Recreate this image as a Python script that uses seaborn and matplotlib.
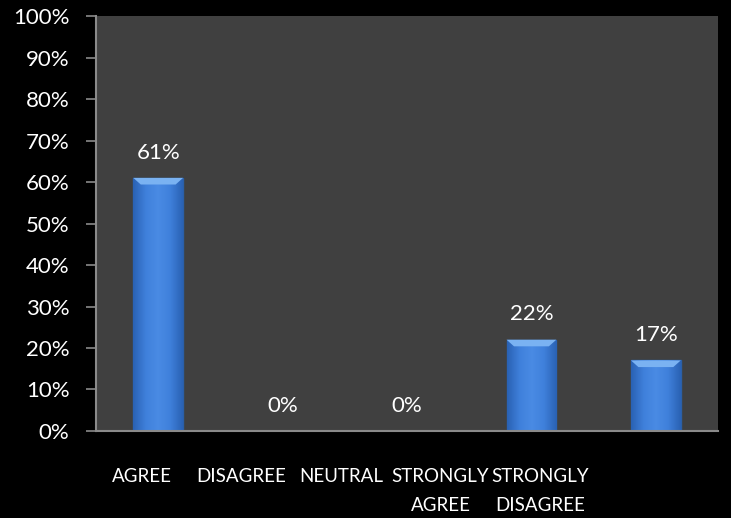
import numpy as np
import pandas as pd
import matplotlib
matplotlib.use('Agg')
import matplotlib.pyplot as plt
from matplotlib.colors import LinearSegmentedColormap
import seaborn as sns

# survey responses (percent)
categories = ['AGREE', 'DISAGREE', 'NEUTRAL', 'STRONGLY AGREE', 'STRONGLY DISAGREE']
tick_labels = ['AGREE', 'DISAGREE', 'NEUTRAL', 'STRONGLY\nAGREE', 'STRONGLY\nDISAGREE']
percents = [61, 0, 0, 22, 17]

df = pd.DataFrame({'response': categories, 'pct': percents})

sns.set_style('dark')
plt.rcParams['font.family'] = ['Lato', 'DejaVu Sans']

fig = plt.figure(figsize=(7.31, 5.18), dpi=100, facecolor='black')
ax = fig.add_axes([0.1313, 0.168, 0.851, 0.801])
ax.set_facecolor('#404040')

sns.barplot(data=df, x='response', y='pct', color='#3C7DD9', width=0.4,
            edgecolor='#2B5FA6', linewidth=1.0, saturation=1, ax=ax)

# shiny look: darker sides, brighter middle, light bevel on top
shade = LinearSegmentedColormap.from_list('shade', ['#2a62b4', '#3f80db', '#4a8be4', '#3f80db', '#2a62b4'])
grad = np.linspace(0, 1, 64).reshape(1, -1)
for p in list(ax.patches):
    h = p.get_height()
    if h <= 0:
        continue
    x0, w = p.get_x(), p.get_width()
    im = ax.imshow(grad, cmap=shade, aspect='auto', extent=(x0, x0 + w, 0, h), zorder=2.5)
    im.set_clip_path(p)
    ax.add_patch(plt.Polygon([(x0, h), (x0 + w, h), (x0 + w * 0.85, h - 1.6), (x0 + w * 0.15, h - 1.6)],
                             closed=True, color='#7ab2f2', lw=0, zorder=3))

for i, v in enumerate(percents):
    ax.annotate(f'{v}%', (i, v), xytext=(0, 11), textcoords='offset points',
                ha='center', va='bottom', color='white', fontsize=16)

ax.set_xlim(-0.5, 4.5)
ax.set_ylim(0, 100)
ax.set_yticks(range(0, 101, 10))
ax.set_yticklabels([f'{t}%' for t in range(0, 101, 10)])

# category labels sit a little left of the bars, as in the source
ax.set_xticks([i * 0.8 - 0.13 for i in range(len(categories))])
ax.set_xticklabels(tick_labels, linespacing=1.8)
ax.tick_params(axis='x', length=0, pad=27, colors='white', labelsize=13.5)
ax.tick_params(axis='y', length=7, width=1.2, direction='out', pad=12,
               color='#8a8a8a', labelcolor='white', labelsize=16, left=True)
ax.set_xlabel('')
ax.set_ylabel('')
ax.grid(False)

for s in ['top', 'right']:
    ax.spines[s].set_visible(False)
for s in ['left', 'bottom']:
    ax.spines[s].set_visible(True)
    ax.spines[s].set_color('#8a8a8a')
    ax.spines[s].set_linewidth(1.5)

fig.savefig('out.png', dpi=100, facecolor='black')
